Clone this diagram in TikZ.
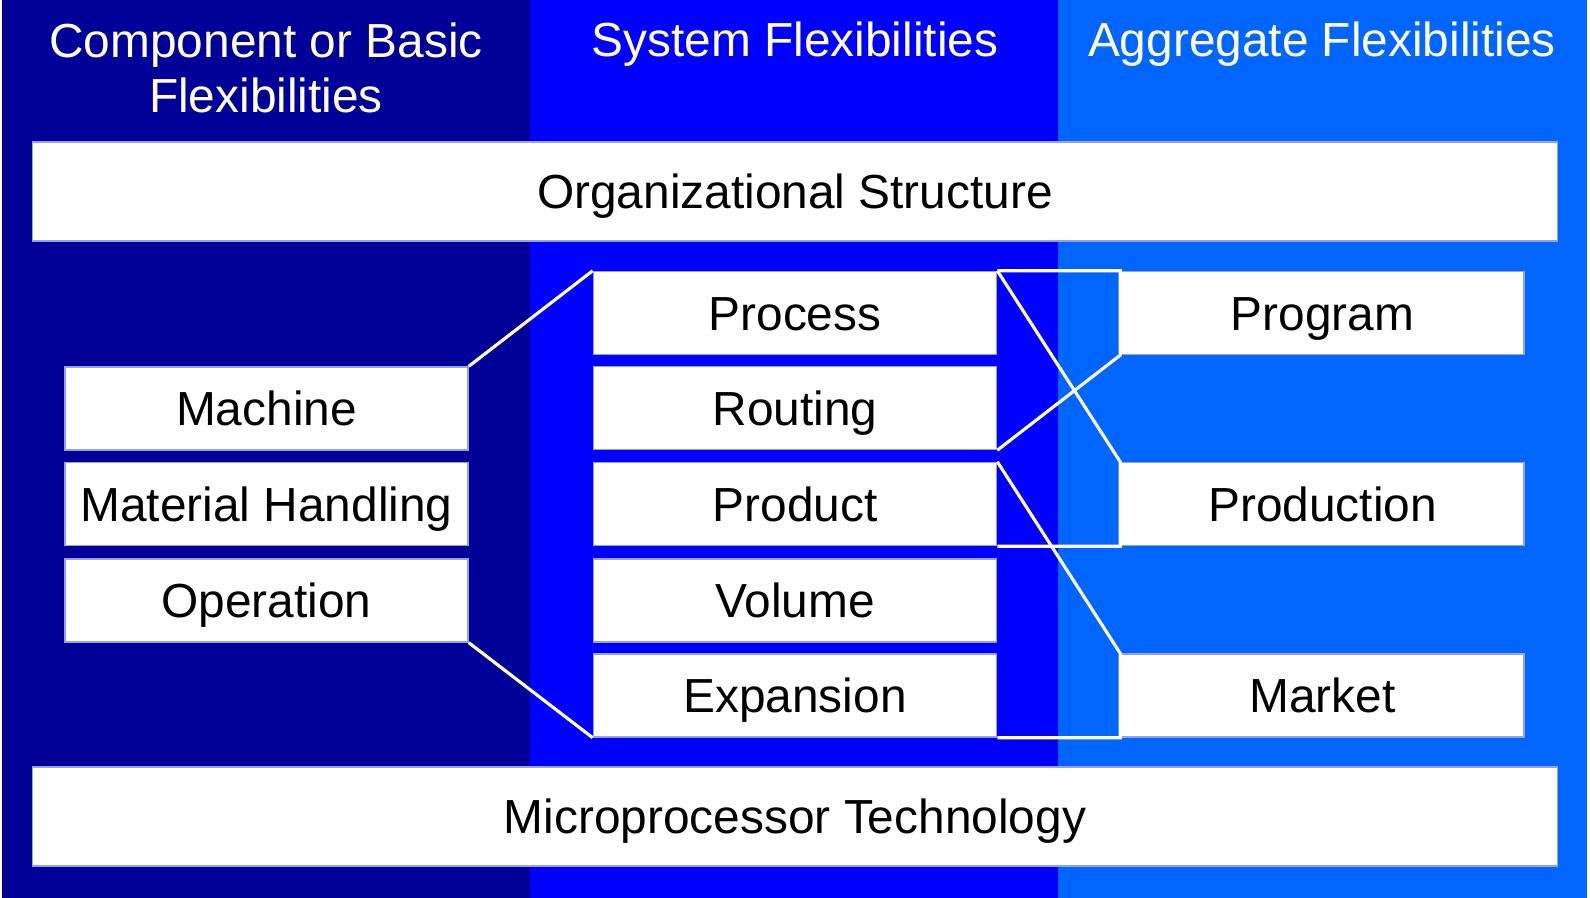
\documentclass[tikz,border=0pt]{standalone}
\usepackage{fontspec}
\setmainfont{Liberation Sans}
\usepackage{xcolor}
\definecolor{basiccol}{RGB}{0,0,153}
\definecolor{systemcol}{RGB}{0,0,255}
\definecolor{aggrcol}{RGB}{0,102,255}
\definecolor{boxedge}{RGB}{150,160,240}

\begin{document}
\begin{tikzpicture}[x=0.01cm,y=-0.01cm,
  flexbox/.style={draw=boxedge,line width=0.4pt,fill=white,inner sep=0pt,
    minimum width=4.03cm,minimum height=0.83cm,
    text height=9.74pt,text depth=0pt,font=\fontsize{13.6}{16}\selectfont},
  widebox/.style={flexbox,minimum width=15.245cm,minimum height=0.99cm},
  header/.style={text=white,align=center,anchor=base,inner sep=0pt,
    font=\fontsize{13.6}{15.9}\selectfont},
  link/.style={white,line width=0.9pt,line join=miter}]
  \useasboundingbox (0,0) rectangle (1591,898);
  % three columns
  \fill[white] (0,0) rectangle (1591,898);
  \fill[basiccol] (2,0) rectangle (530,898);
  \fill[systemcol] (530,0) rectangle (1058,898);
  \fill[aggrcol] (1058,0) rectangle (1587,898);

  % headers (base = last line)
  \node[header] (hbasic) at (266,113) {Component or Basic\\Flexibilities};
  \node[header] (hsystem) at (795,57) {System Flexibilities};
  \node[header] (haggr) at (1322,57) {Aggregate Flexibilities};

  % wide bars
  \node[widebox] (org) at (795,191.5) {Organizational Structure};
  \node[widebox] (micro) at (795,816.5) {Microprocessor Technology};

  % basic flexibilities
  \foreach \name/\txt/\y in {machine/Machine/408.5,handling/Material Handling/504,
      operation/Operation/600.5}
    \node[flexbox] (\name) at (266.5,\y) {\txt};

  % system flexibilities
  \foreach \name/\txt/\y in {process/Process/313,routing/Routing/408,product/Product/504,
      volume/Volume/600.5,expansion/Expansion/695.5}
    \node[flexbox] (\name) at (795,\y) {\txt};

  % aggregate flexibilities
  \foreach \name/\txt/\y in {program/Program/313,production/Production/504,market/Market/695.5}
    \node[flexbox] (\name) at (1322.5,\y) {\txt};

  % links
  \draw[link] (machine.north east) -- (process.north west);
  \draw[link] (operation.south east) -- (expansion.south west);
  \draw[link] (process.north east) -- (program.north west) -- (program.south west) -- (routing.south east);
  \draw[link] (process.north east) -- (production.north west) -- (production.south west) -- (product.south east);
  \draw[link] (product.north east) -- (market.north west) -- (market.south west) -- (expansion.south east);
\end{tikzpicture}
\end{document}
